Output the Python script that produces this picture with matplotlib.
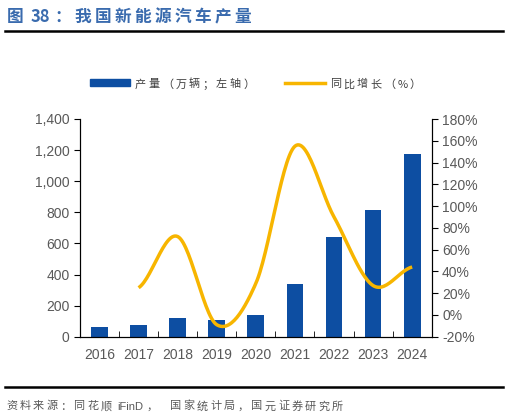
import numpy as np
import matplotlib
matplotlib.use('Agg')
import matplotlib.pyplot as plt
from matplotlib.lines import Line2D
from matplotlib.patches import Rectangle

plt.rcParams['font.family'] = ['Liberation Sans', 'Noto Sans CJK SC', 'DejaVu Sans']

# data
years = ['2016', '2017', '2018', '2019', '2020', '2021', '2022', '2023', '2024']
output = [60, 73, 122, 109, 137, 340, 640, 818, 1173]        # 万辆, left axis
yoy_years = ['2017', '2018', '2019', '2020', '2021', '2022', '2023', '2024']
yoy = [25, 72, -9, 29, 155, 90, 27, 44]                       # %, right axis

bar_color = '#0D4EA2'
line_color = '#F7B500'
tick_color = '#595959'
W, H = 509, 418


def smooth(x, y, n=30):
    # hermite / catmull-rom smoothing, like excel's smoothed line
    x = np.asarray(x, float)
    y = np.asarray(y, float)
    xs, ys = [], []
    for i in range(len(x) - 1):
        y0 = y[i - 1] if i > 0 else y[i]
        y3 = y[i + 2] if i + 2 < len(y) else y[i + 1]
        m1 = (y[i + 1] - y0) / 2
        m2 = (y3 - y[i]) / 2
        t = np.linspace(0, 1, n)
        h00 = 2*t**3 - 3*t**2 + 1
        h10 = t**3 - 2*t**2 + t
        h01 = -2*t**3 + 3*t**2
        h11 = t**3 - t**2
        xs.append(x[i] + t * (x[i + 1] - x[i]))
        ys.append(h00*y[i] + h10*m1 + h01*y[i + 1] + h11*m2)
    return np.concatenate(xs), np.concatenate(ys)


def spaced_text(fig, x, y, s, size, advance, gap, **kw):
    # chinese chars on a fixed pitch, latin runs measured; x, y in pixels (baseline)
    r = fig.canvas.get_renderer()
    tokens = []
    run = ''
    for ch in s:
        if ord(ch) < 128:
            run += ch
        else:
            if run:
                tokens.append(run)
                run = ''
            tokens.append(ch)
    if run:
        tokens.append(run)
    for tok in tokens:
        if tok.strip() == '':
            x += gap * len(tok)
            continue
        lead = len(tok) - len(tok.lstrip())
        x += gap * lead
        tok = tok.strip()
        t = fig.text(x / W, 1 - y / H, tok, fontsize=size, va='baseline', ha='left', **kw)
        if ord(tok[0]) < 128:
            x += t.get_window_extent(r).width + gap
        else:
            x += advance


fig = plt.figure(figsize=(W / 100, H / 100), dpi=100)
ax = fig.add_axes([80/W, 1-336.7/H, (431.7-80)/W, (336.7-119)/H])

x = np.arange(len(years))
ax.bar(x, output, width=0.43, color=bar_color, zorder=2)
ax.set_xlim(-0.5, len(years) - 0.5)
ax.set_ylim(0, 1400)
ax.set_yticks(np.arange(0, 1401, 200))
ax.set_yticklabels([f'{v:,}' for v in range(0, 1401, 200)])
ax.set_xticks(x)
ax.set_xticklabels(years)
ax.set_xticks(np.arange(0.5, len(years) - 1, 1), minor=True)
ax.tick_params(axis='x', which='major', length=0, pad=8, labelsize=10, labelcolor=tick_color)
ax.tick_params(axis='x', which='minor', direction='in', length=4, color='black')
ax.tick_params(axis='y', direction='out', length=4, labelsize=10, labelcolor=tick_color)
ax.spines['top'].set_visible(False)

ax2 = ax.twinx()
xi = [years.index(y) for y in yoy_years]
sx, sy = smooth(xi, yoy)
ax2.plot(sx, sy, color=line_color, lw=2.5, zorder=3, solid_capstyle='butt')
ax2.set_ylim(-20, 180)
ax2.set_yticks(np.arange(-20, 181, 20))
ax2.set_yticklabels([f'{v}%' for v in range(-20, 181, 20)])
ax2.tick_params(axis='y', direction='out', length=4, labelsize=10, labelcolor=tick_color)
ax2.spines['top'].set_visible(False)

# legend drawn by hand
fig.add_artist(Rectangle((90/W, 1-86/H), 40/W, 7/H, color=bar_color, transform=fig.transFigure))
fig.add_artist(Line2D([285/W, 325/W], [1-82.5/H, 1-82.5/H], color=line_color, lw=2.5))
cjk = ['Noto Sans CJK SC', 'Liberation Sans']
mixed = ['Liberation Sans', 'Noto Sans CJK SC']
spaced_text(fig, 135, 87.5, '产量（万辆；左轴）', 8, 13.5, 2, color='#404040', family=cjk)
spaced_text(fig, 330, 87.5, '同比增长（%）', 8, 13.5, 2, color='#404040', family=cjk)

# title, rules and source
spaced_text(fig, 7, 22, '图 38：我国新能源汽车产量', 12, 20, 4, color='#3A6BAE',
            fontweight='bold', family=['Noto Sans CJK SC'])
fig.add_artist(Line2D([5/W, 503/W], [1-31/H, 1-31/H], color='black', lw=1.8))
fig.add_artist(Line2D([5/W, 503/W], [1-387/H, 1-387/H], color='black', lw=1.8))
spaced_text(fig, 6, 409.5, '资料来源：同花顺 iFinD，', 8, 13.5, 3, color=tick_color, family=mixed)
spaced_text(fig, 170, 409.5, '国家统计局，国元证券研究所', 8, 13.5, 3, color=tick_color, family=mixed)

fig.savefig('out.png', dpi=100)
